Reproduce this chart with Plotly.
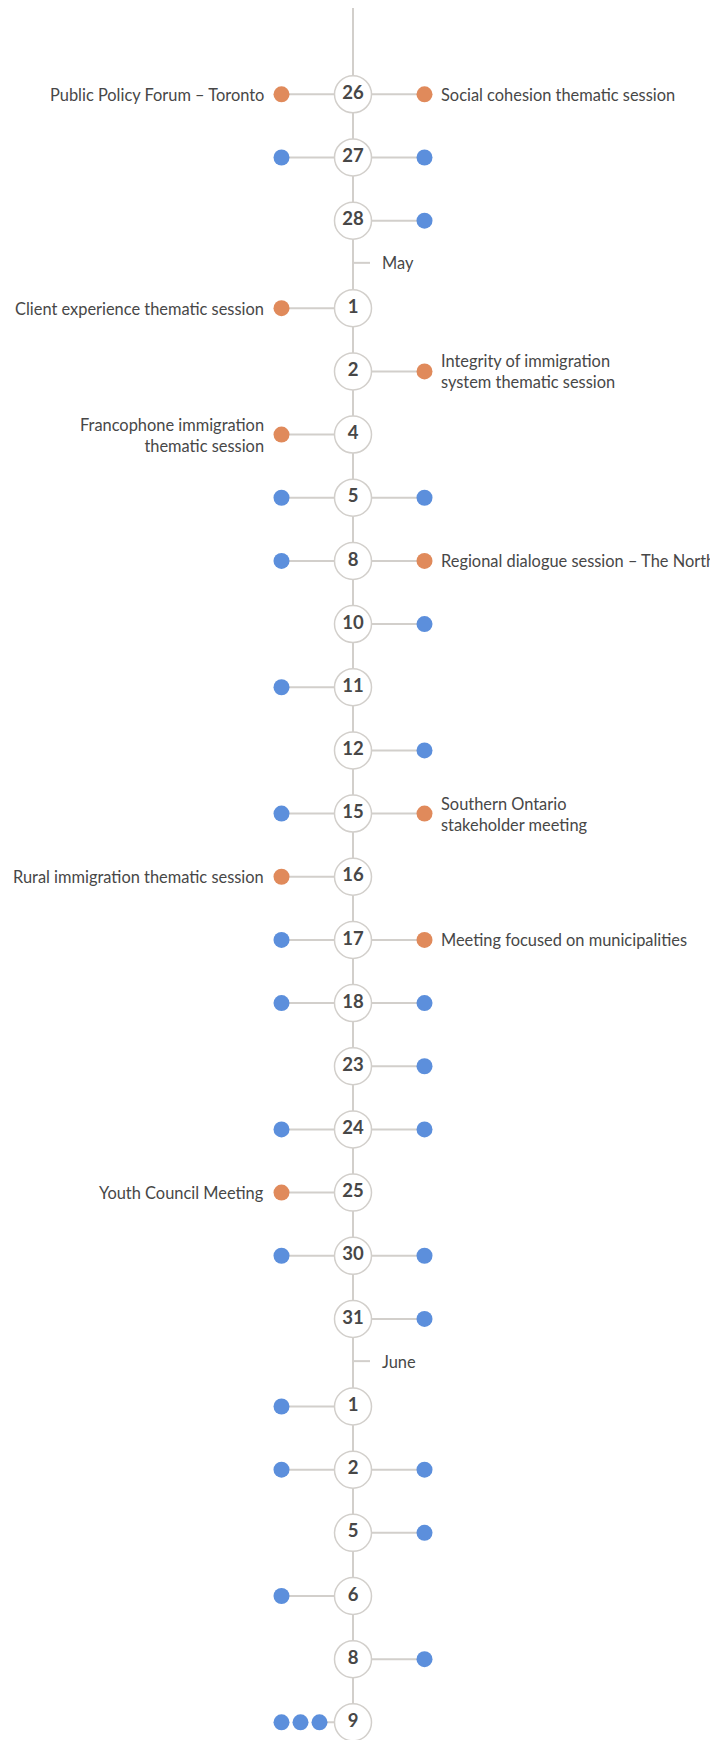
import plotly.graph_objects as go

# ---------------- data ----------------
day_labels = [26, 27, 28, 1, 2, 4, 5, 8, 10, 11, 12, 15, 16, 17, 18, 23, 24, 25, 30, 31,
              1, 2, 5, 6, 8, 9]
day_months = ["April"] * 3 + ["May"] * 17 + ["June"] * 6

left_count = [1, 1, 0, 1, 0, 1, 1, 1, 0, 1, 0, 1, 1, 1, 1, 0, 1, 1, 1, 0, 1, 1, 0, 1, 0, 3]
right_count = [1, 1, 1, 0, 1, 0, 1, 1, 1, 0, 1, 1, 0, 1, 1, 1, 1, 0, 1, 1, 0, 1, 1, 0, 1, 0]

left_titles = ["Public Policy Forum – Toronto", "", "", "Client experience thematic session", "",
               "Francophone immigration<br>thematic session", "", "", "", "", "", "",
               "Rural immigration thematic session", "", "", "", "", "Youth Council Meeting",
               "", "", "", "", "", "", "", ""]
right_titles = ["Social cohesion thematic session", "", "", "",
                "Integrity of immigration<br>system thematic session", "", "",
                "Regional dialogue session – The North", "", "", "",
                "Southern Ontario<br>stakeholder meeting", "", "Meeting focused on municipalities",
                "", "", "", "", "", "", "", "", "", "", "", ""]

# ---------------- style ----------------
W, H = 710, 1732    # page body has an 8px margin
CX = 345.0          # pixel x of timeline (figure coords)
SLOT = 71.5         # pixel offset of event dots
ROW = 63.17         # pixel per row
TOP = 86.3          # pixel y of first row (figure coords)
MONTH_GAP = 24.4 / ROW
DOT_STEP = 19.0 / SLOT

ORANGE = "#E08A5B"
BLUE = "#5C8FDC"
GRAY = "#D2CFCB"
TEXT = "#474747"
FONT = "Lato"
LABEL_SIZE = 16.4

# row positions (in row units)
ys = []
month_marks = []
offset = 0.0
for i, m in enumerate(day_months):
    if i > 0 and m != day_months[i - 1]:
        month_marks.append((ys[-1] + 42.2 / ROW, m))
        offset += MONTH_GAP
    ys.append(i + offset)

fig = go.Figure()

# vertical line
fig.add_trace(go.Scatter(x=[0, 0], y=[-TOP / ROW, ys[-1]], mode="lines",
                         line=dict(color=GRAY, width=2), hoverinfo="skip", cliponaxis=True))

# month ticks
for y, m in month_marks:
    fig.add_trace(go.Scatter(x=[0, 17 / SLOT], y=[y, y], mode="lines",
                             line=dict(color=GRAY, width=2), hoverinfo="skip"))
    fig.add_annotation(x=27 / SLOT, y=y, text=m, showarrow=False, xanchor="left",
                       yanchor="middle", font=dict(family=FONT, size=LABEL_SIZE, color=TEXT))

# connectors
cx, cy = [], []
for i, y in enumerate(ys):
    if left_count[i]:
        inner = -1 + DOT_STEP * (left_count[i] - 1)
        cx += [0, inner, None]
        cy += [y, y, None]
    if right_count[i]:
        cx += [0, 1, None]
        cy += [y, y, None]
fig.add_trace(go.Scatter(x=cx, y=cy, mode="lines", line=dict(color=GRAY, width=2),
                         hoverinfo="skip"))

# dots
dx, dy, dc = [], [], []
for i, y in enumerate(ys):
    for k in range(left_count[i]):
        dx.append(-1 + DOT_STEP * k)
        dy.append(y)
        dc.append(ORANGE if left_titles[i] else BLUE)
    if right_count[i]:
        dx.append(1)
        dy.append(y)
        dc.append(ORANGE if right_titles[i] else BLUE)
fig.add_trace(go.Scatter(x=dx, y=dy, mode="markers",
                         marker=dict(size=16, color=dc, line=dict(width=0)), hoverinfo="skip"))

# day circles
fig.add_trace(go.Scatter(x=[0] * len(ys), y=ys, mode="markers+text",
                         text=[str(d) for d in day_labels], textposition="middle center",
                         textfont=dict(family=FONT, size=18.5, color=TEXT, weight=700),
                         marker=dict(size=37, color="white", line=dict(color=GRAY, width=1.5)),
                         hoverinfo="skip", cliponaxis=False))

# labels
for i, y in enumerate(ys):
    if left_titles[i]:
        fig.add_annotation(x=-1, y=y, text=left_titles[i], showarrow=False, xanchor="right",
                           yanchor="middle", xshift=-16, align="right",
                           font=dict(family=FONT, size=LABEL_SIZE, color=TEXT))
    if right_titles[i]:
        fig.add_annotation(x=1, y=y, text=right_titles[i], showarrow=False, xanchor="left",
                           yanchor="middle", xshift=14, align="left",
                           font=dict(family=FONT, size=LABEL_SIZE, color=TEXT))

fig.update_layout(
    width=W, height=H, margin=dict(l=0, r=0, t=0, b=0),
    paper_bgcolor="white", plot_bgcolor="white", showlegend=False,
    xaxis=dict(range=[-CX / SLOT, (W - CX) / SLOT], visible=False, fixedrange=True),
    yaxis=dict(range=[(H - TOP) / ROW, -TOP / ROW], visible=False, fixedrange=True),
)

fig.write_html("out.html", config={"displayModeBar": False})
